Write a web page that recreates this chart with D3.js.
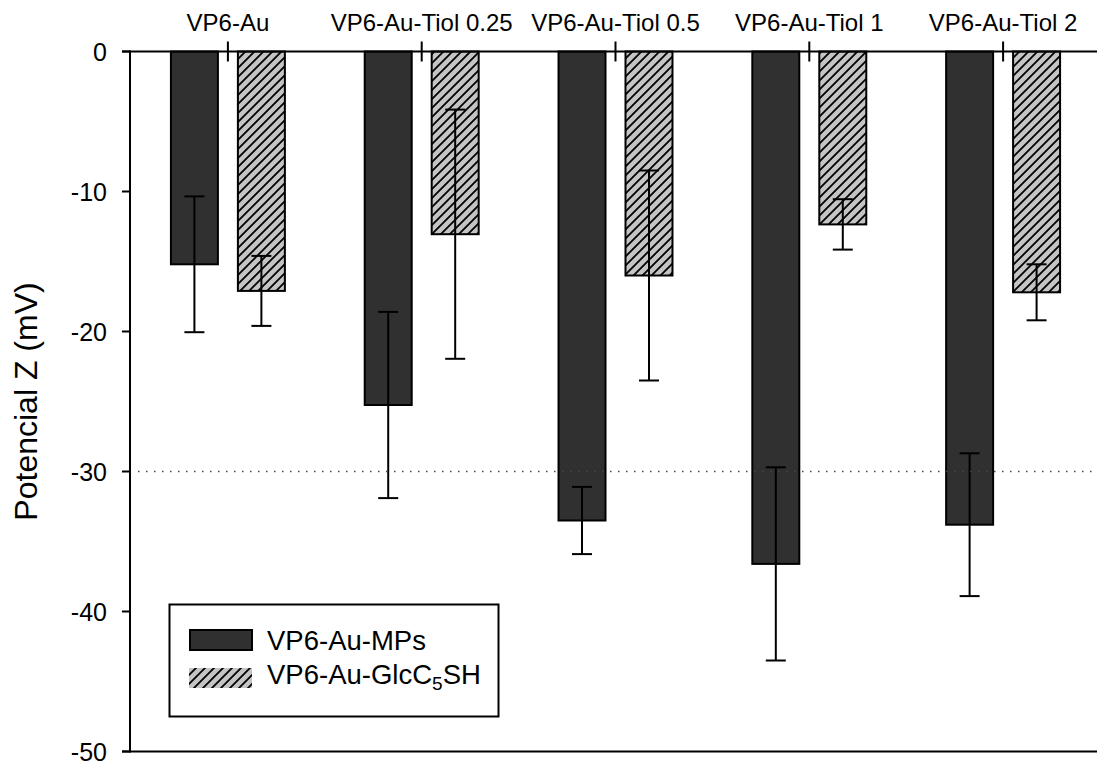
<!DOCTYPE html>
<html>
<head>
<meta charset="utf-8">
<script src="https://cdn.jsdelivr.net/npm/d3@7"></script>
<style>
  body { margin: 0; background: #fff; }
  svg { display: block; font-family: "Liberation Sans", Arial, sans-serif; }
</style>
</head>
<body>
<svg id="chart" width="1097" height="764"></svg>
<script>
// Data
const categories = ["VP6-Au", "VP6-Au-Tiol 0.25", "VP6-Au-Tiol 0.5", "VP6-Au-Tiol 1", "VP6-Au-Tiol 2"];
const seriesNames = ["VP6-Au-MPs", "VP6-Au-GlcC5SH"];
const mpsMean = [-15.2, -25.25, -33.5, -36.6, -33.8];
const mpsErr = [4.85, 6.65, 2.4, 6.9, 5.1];
const glcMean = [-17.1, -13.05, -16.0, -12.35, -17.2];
const glcErr = [2.5, 8.9, 7.5, 1.8, 2.0];
const yTicks = [0, -10, -20, -30, -40, -50];
const refLine = -30;

const svg = d3.select("#chart");
const W = 1097;
const plotLeft = 130, plotTop = 51.5, plotBottom = 751.5;

// Scales
const x = d3.scaleBand().domain(categories).range([131, 1100]);
const xSub = d3.scaleBand().domain(seriesNames).range([0, x.bandwidth()])
    .paddingInner(0.2985).paddingOuter(0.596);
const y = d3.scaleLinear().domain([-50, 0]).range([plotBottom, plotTop]);

// Hatch pattern
const defs = svg.append("defs");
const pat = defs.append("pattern")
    .attr("id", "hatch")
    .attr("patternUnits", "userSpaceOnUse")
    .attr("width", 9).attr("height", 9);
pat.append("rect").attr("width", 9).attr("height", 9).attr("fill", "#c4c4c4");
pat.append("path")
    .attr("d", "M-1,1 l2,-2 M0,9 l9,-9 M8,10 l2,-2")
    .attr("stroke", "#000").attr("stroke-width", 1.8);

const fills = { "VP6-Au-MPs": "#303030", "VP6-Au-GlcC5SH": "url(#hatch)" };

// Build rows
const rows = categories.map((c, i) => [
    { cat: c, s: seriesNames[0], v: mpsMean[i], e: mpsErr[i] },
    { cat: c, s: seriesNames[1], v: glcMean[i], e: glcErr[i] }
]).flat();

// Bars
svg.append("g").selectAll("rect")
    .data(rows)
    .join("rect")
    .attr("x", d => x(d.cat) + xSub(d.s))
    .attr("width", xSub.bandwidth())
    .attr("y", y(0))
    .attr("height", d => y(d.v) - y(0))
    .attr("fill", d => fills[d.s])
    .attr("stroke", "#000")
    .attr("stroke-width", 2);

// Error bars
const eb = svg.append("g").attr("stroke", "#000").attr("stroke-width", 2);
rows.forEach(d => {
    const cx = x(d.cat) + xSub(d.s) + xSub.bandwidth() / 2;
    eb.append("line").attr("x1", cx).attr("x2", cx).attr("y1", y(d.v + d.e)).attr("y2", y(d.v - d.e));
    eb.append("line").attr("x1", cx - 10).attr("x2", cx + 10).attr("y1", y(d.v + d.e)).attr("y2", y(d.v + d.e));
    eb.append("line").attr("x1", cx - 10).attr("x2", cx + 10).attr("y1", y(d.v - d.e)).attr("y2", y(d.v - d.e));
});

// Dotted reference line
svg.append("line")
    .attr("x1", plotLeft + 8).attr("x2", W)
    .attr("y1", y(refLine)).attr("y2", y(refLine))
    .attr("stroke", "#444").attr("stroke-width", 1.5)
    .attr("stroke-dasharray", "1.5,6.5");

// Axes
const ax = svg.append("g").attr("stroke", "#000").attr("stroke-width", 2);
ax.append("line").attr("x1", plotLeft).attr("x2", plotLeft).attr("y1", plotTop - 1).attr("y2", plotBottom + 1);
ax.append("line").attr("x1", plotLeft - 8).attr("x2", W).attr("y1", plotTop).attr("y2", plotTop);
ax.append("line").attr("x1", plotLeft - 8).attr("x2", W).attr("y1", plotBottom).attr("y2", plotBottom);

yTicks.forEach(t => {
    ax.append("line").attr("x1", plotLeft - 8).attr("x2", plotLeft).attr("y1", y(t)).attr("y2", y(t));
});
svg.append("g").selectAll("text")
    .data(yTicks)
    .join("text")
    .attr("x", 107)
    .attr("y", d => y(d))
    .attr("dy", "0.36em")
    .attr("text-anchor", "end")
    .attr("font-size", 25)
    .attr("fill", "#000")
    .text(d => d);

// Category ticks and labels on top
categories.forEach(c => {
    const cx = x(c) + x.bandwidth() / 2;
    ax.append("line").attr("x1", cx).attr("x2", cx).attr("y1", plotTop - 10).attr("y2", plotTop + 10);
});
svg.append("g").selectAll("text")
    .data(categories)
    .join("text")
    .attr("x", d => x(d) + x.bandwidth() / 2)
    .attr("y", 31)
    .attr("text-anchor", "middle")
    .attr("font-size", 24)
    .attr("fill", "#000")
    .text(d => d);

// Y axis title
svg.append("text")
    .attr("transform", `translate(37,${(plotTop + plotBottom) / 2}) rotate(-90)`)
    .attr("text-anchor", "middle")
    .attr("font-size", 32)
    .attr("fill", "#000")
    .text("Potencial Z (mV)");

// Legend
const lg = svg.append("g");
lg.append("rect")
    .attr("x", 169.5).attr("y", 604.5).attr("width", 329).attr("height", 112)
    .attr("fill", "#fff").attr("stroke", "#000").attr("stroke-width", 2);
lg.append("rect")
    .attr("x", 190).attr("y", 630).attr("width", 62).attr("height", 20)
    .attr("fill", fills[seriesNames[0]]).attr("stroke", "#000").attr("stroke-width", 2);
lg.append("rect")
    .attr("x", 189).attr("y", 668).attr("width", 63).attr("height", 20)
    .attr("fill", fills[seriesNames[1]]);
lg.append("text")
    .attr("x", 267).attr("y", 649.5)
    .attr("font-size", 27.5).attr("fill", "#000")
    .text(seriesNames[0]);
const t2 = lg.append("text")
    .attr("x", 267).attr("y", 683.5)
    .attr("font-size", 27.5).attr("fill", "#000");
t2.append("tspan").text("VP6-Au-GlcC");
t2.append("tspan").attr("font-size", 19).attr("dy", 6).text("5");
t2.append("tspan").attr("dy", -6).text("SH");
</script>
</body>
</html>
